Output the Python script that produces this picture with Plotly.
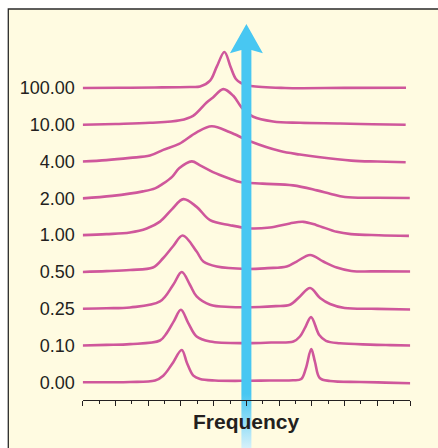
import plotly.graph_objects as go

# ---------------- data ----------------
ROW_LABELS = ["0.00", "0.10", "0.25", "0.50", "1.00", "2.00", "4.00", "10.00", "100.00"]

FREQ_000 = [0, 1.5, 2.89, 4.42, 4.92, 5.46, 6.05, 6.37, 6.76, 7.17, 8.08, 9.98, 11.4, 12.85, 13.35, 13.64, 13.96, 14.19, 14.48, 15.11, 16.94, 18.5, 20.04]
INT_000 = [0, 0.1, 0.3, 1.8, 6.6, 18.3, 32.3, 19.3, 6.6, 3.3, 1.8, 1.5, 1.8, 2.0, 3.3, 14.3, 33.3, 20.3, 4.3, 1.3, 0.3, -0.3, -1.0]

FREQ_010 = [0, 1.45, 2.89, 4.72, 5.13, 5.58, 6.00, 6.45, 6.96, 7.78, 10.02, 11.5, 12.87, 13.27, 13.61, 13.95, 14.45, 14.86, 15.72, 17.55, 18.8, 20.04]
INT_010 = [0, 0.6, 1.4, 5.0, 12.4, 24.7, 35.7, 22.4, 9.0, 4.0, 2.4, 3.0, 4.0, 9.0, 18.7, 28.4, 10.5, 4.7, 2.2, 0.9, 0.4, 0]

FREQ_025 = [0, 1.45, 2.89, 4.72, 5.53, 6.05, 6.55, 6.96, 7.78, 9.00, 10.83, 11.8, 12.66, 13.27, 13.89, 14.50, 15.11, 16.00, 18.0, 20.04]
INT_025 = [0, 0.5, 1.3, 7.3, 24.0, 36.7, 24.0, 12.3, 4.0, 1.7, 1.7, 2.6, 4.0, 12.3, 20.7, 10.7, 4.7, 0.7, -0.1, -0.7]

FREQ_050 = [0, 1.45, 2.89, 4.29, 4.91, 5.52, 6.11, 6.96, 7.37, 8.19, 10.02, 11.3, 12.46, 13.07, 13.89, 14.70, 15.52, 16.41, 18.2, 20.04]
INT_050 = [0, 0.8, 2.0, 4.4, 13.7, 25.7, 36.4, 20.4, 10.4, 5.4, 3.0, 3.8, 5.4, 10.4, 17.0, 10.4, 4.4, 1.0, 0.6, 0.4]

FREQ_100 = [0, 1.45, 2.89, 3.91, 4.72, 5.46, 6.15, 6.96, 7.78, 9.00, 10.22, 11.44, 12.66, 13.48, 14.29, 15.52, 16.39, 18.1, 19.93]
INT_100 = [0, 1.0, 2.7, 6.7, 13.5, 26.0, 36.0, 28.3, 15.0, 10.0, 6.7, 7.7, 11.7, 13.3, 10.0, 3.3, 1.0, -0.1, -0.7]

FREQ_200 = [0, 1.8, 3.68, 4.42, 4.91, 5.46, 5.89, 6.66, 7.17, 7.96, 8.99, 9.61, 10.99, 12.85, 14.31, 15.11, 16.02, 18.0, 19.98]
INT_200 = [0, 2.5, 7.0, 10.0, 14.7, 21.5, 30.0, 37.0, 33.0, 26.3, 19.7, 16.3, 14.7, 13.0, 8.0, 4.7, 1.3, 0.6, 0.3]

FREQ_400 = [0, 1.45, 2.89, 4.11, 4.92, 5.89, 6.96, 7.88, 9.00, 10.22, 12.06, 13.27, 14.38, 16.41, 18.0, 19.73]
INT_400 = [0, 1.5, 3.7, 6.0, 11.7, 17.7, 29.3, 35.3, 29.3, 20.3, 10.5, 7.0, 4.5, 1.0, 0, -0.7]

FREQ_1000 = [0, 2.0, 4.11, 5.94, 6.74, 7.57, 7.96, 8.59, 9.20, 9.71, 10.42, 11.63, 13.27, 15.72, 17.7, 19.73]
INT_1000 = [0, 0.8, 2.0, 4.5, 9.0, 22.3, 27.4, 35.7, 29.0, 17.3, 8.0, 3.3, 2.0, 1.3, 0.6, 0]

FREQ_10000 = [0, 2.2, 4.4, 6.55, 7.17, 7.78, 8.19, 8.66, 9.03, 9.36, 9.67, 10.28, 12.36, 16.0, 19.75]
INT_10000 = [0, 0.2, 0.5, 1.0, 1.5, 7.3, 21.3, 36.0, 21.3, 9.0, 5.0, 2.0, 0, 0.1, 0.3]

SPECTRA = [
    (FREQ_000, INT_000), (FREQ_010, INT_010), (FREQ_025, INT_025),
    (FREQ_050, INT_050), (FREQ_100, INT_100), (FREQ_200, INT_200),
    (FREQ_400, INT_400), (FREQ_1000, INT_1000), (FREQ_10000, INT_10000),
]
FREQ_MIN, FREQ_MAX = 0, 20
AXIS_TITLE = "Frequency"

# ---------------- style / geometry (screen px; body margin removed) ----------------
W, H = 438, 448
LINE_COLOR = "#CF579B"
ARROW_COLOR = "#48C7F2"
ARROW_PALE = "rgb(224,244,251)"
BG = "#FFFBE1"
TEXT = "#231F20"
FONT = "Liberation Sans, Arial, sans-serif"

BOX_LEFT, BOX_TOP = 8.3, 9.0
X0_PX, X1_PX = 82.7, 410.1
AXIS_PX = 400.0
ROW0_PX, ROW8_PX = 382.3, 88.0
ROW_PX = (ROW0_PX - ROW8_PX) / (len(ROW_LABELS) - 1)
PX_PER_FREQ = (X1_PX - X0_PX) / (FREQ_MAX - FREQ_MIN)
Y_LO = -(H - ROW0_PX) / ROW_PX
Y_HI = ROW0_PX / ROW_PX
GAIN = 1.0 / ROW_PX


def py_to_y(py):
    return (ROW0_PX - py) / ROW_PX


fig = go.Figure()

for i, (fx, iy) in enumerate(SPECTRA):
    fig.add_trace(go.Scatter(
        x=fx, y=[i + v * GAIN for v in iy], mode="lines",
        line=dict(color=LINE_COLOR, width=2.6, shape="spline", smoothing=1.0),
        hoverinfo="skip", showlegend=False,
    ))

# arrow (decoration) centred on the middle of the frequency range
ac = (FREQ_MIN + FREQ_MAX) / 2
shaft, head = 5.0, 16.5
tip, corner, notch, bottom = 24.0, 53.3, 50.0, H + 10
pts = [(-shaft, bottom), (-shaft, notch), (-head, corner), (0, tip),
       (head, corner), (shaft, notch), (shaft, bottom), (-shaft, bottom)]
ax_ = [ac + dx / PX_PER_FREQ for dx, _ in pts]
ay_ = [py_to_y(p) for _, p in pts]
fade_top, fade_bot = 394.0, 452.0
fig.add_trace(go.Scatter(
    x=ax_, y=ay_, mode="lines", fill="toself",
    line=dict(width=0, color=ARROW_COLOR),
    fillgradient=dict(type="vertical",
                      colorscale=[[0, ARROW_PALE], [1, ARROW_COLOR]],
                      start=py_to_y(fade_bot), stop=py_to_y(fade_top)),
    hoverinfo="skip", showlegend=False,
))

fig.update_layout(
    width=W, height=H,
    margin=dict(l=0, r=0, t=0, b=0),
    paper_bgcolor="white",
    plot_bgcolor="rgba(0,0,0,0)",
    shapes=[dict(type="rect", xref="paper", yref="paper", layer="below",
                 x0=BOX_LEFT / W, y0=-0.05, x1=1.05, y1=1 - BOX_TOP / H,
                 fillcolor=BG, line=dict(color="#2a2a2a", width=1.3))],
    xaxis=dict(
        domain=[X0_PX / W, X1_PX / W], range=[FREQ_MIN, FREQ_MAX],
        anchor="free", position=1 - AXIS_PX / H,
        showgrid=False, zeroline=False, showline=True, linecolor=TEXT, linewidth=1,
        ticks="outside", ticklen=4.5, tickwidth=1, tickcolor=TEXT,
        tick0=FREQ_MIN, dtick=2, showticklabels=False,
        minor=dict(ticks="outside", ticklen=2.5, tickwidth=1, tickcolor=TEXT, tick0=FREQ_MIN, dtick=1),
    ),
    yaxis=dict(
        domain=[0, 1], range=[Y_LO, Y_HI], anchor="x",
        showgrid=False, zeroline=False, showline=False, ticks="",
        tickvals=list(range(len(ROW_LABELS))), ticktext=ROW_LABELS,
        tickfont=dict(family=FONT, size=18, color=TEXT),
        ticklabelstandoff=7,
    ),
    annotations=[dict(x=(FREQ_MIN + FREQ_MAX) / 2, xref="x", y=1 - 421.0 / H, yref="paper",
                      text="<b>%s</b>" % AXIS_TITLE, showarrow=False, yanchor="middle",
                      font=dict(family=FONT, size=21, color=TEXT))],
)

fig.write_html(
    "out.html",
    config={"displayModeBar": False, "staticPlot": True},
    post_script=("document.body.style.margin='0';"
                 "document.documentElement.style.overflow='hidden';"
                 "document.body.style.overflow='hidden';"),
)
